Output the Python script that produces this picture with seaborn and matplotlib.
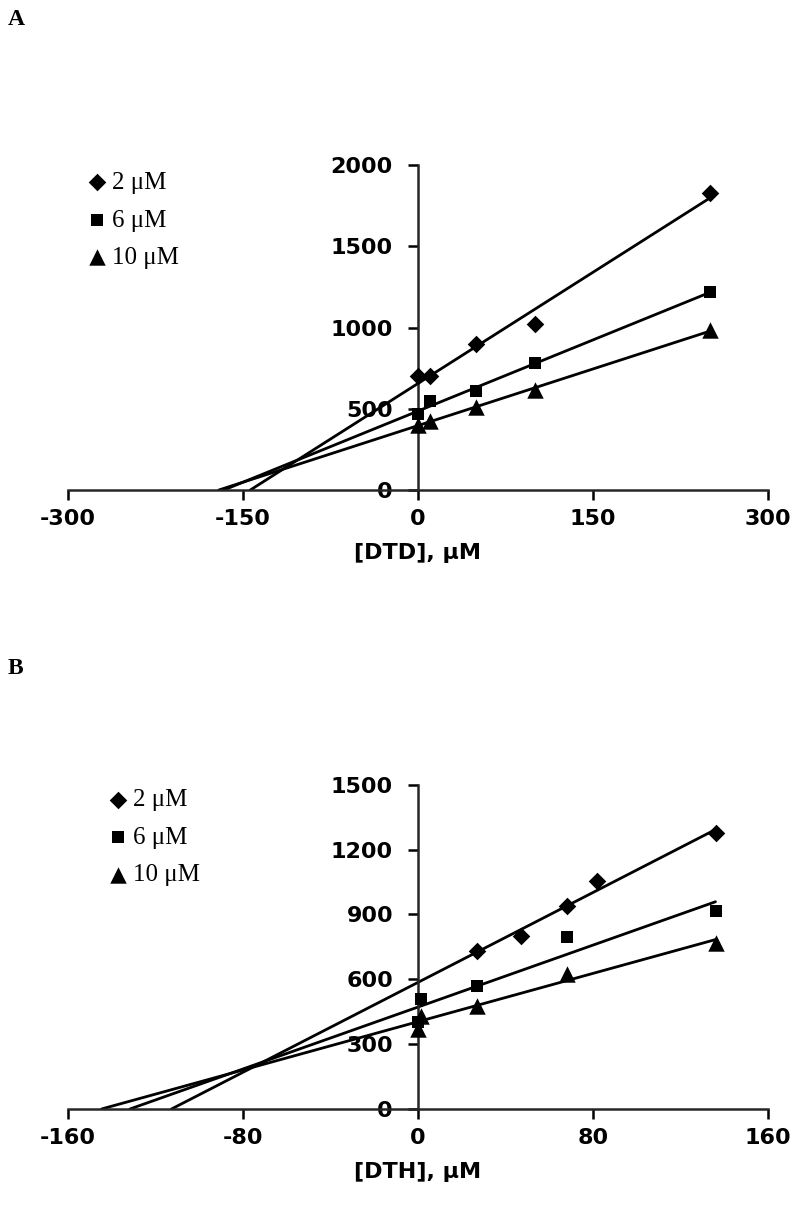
import numpy as np
import matplotlib
matplotlib.use("Agg")
import matplotlib.pyplot as plt
import seaborn as sns

# ── Data ─────────────────────────────────────────────────────────────────────
# Panel A: [DTD] series
dtd_conc = [0, 10, 50, 100, 250]
dtd_2uM = [700, 700, 900, 1020, 1830]
dtd_6uM = [470, 548, 609, 783, 1217]
dtd_10uM = [400, 425, 511, 618, 982]

# Panel B: [DTH] series
dth_conc_2uM = [27, 47, 68, 82, 136]
dth_2uM = [730, 800, 938, 1054, 1277]
dth_conc = [0, 1.5, 27, 68, 136]
dth_6uM = [400, 508, 569, 795, 918]
dth_10uM = [369, 430, 477, 623, 769]

series_labels = ["2 μM", "6 μM", "10 μM"]
markers = ["D", "s", "^"]
marker_sizes = [80, 70, 140]

a_xticks = [-300, -150, 0, 150, 300]
a_yticks = [0, 500, 1000, 1500, 2000]
b_xticks = [-160, -80, 0, 80, 160]
b_yticks = [0, 300, 600, 900, 1200, 1500]

sns.set_style("ticks")
plt.rcParams["font.family"] = ["DejaVu Sans"]
plt.rcParams["text.color"] = "black"
plt.rcParams["axes.labelcolor"] = "black"
plt.rcParams["xtick.color"] = "black"
plt.rcParams["ytick.color"] = "black"
plt.rcParams["axes.unicode_minus"] = False

LEG_FONT = dict(family="Liberation Serif", size=18, weight="normal")


def draw_panel(ax, xs, ys, xticks, yticks, xlabel, leg_x, leg_y):
    # spines first: set_position resets the tick objects
    ax.spines["left"].set_position(("data", 0))
    ax.spines["bottom"].set_position(("data", 0))
    for sp in ["top", "right"]:
        ax.spines[sp].set_visible(False)
    for sp in ["left", "bottom"]:
        ax.spines[sp].set_linewidth(1.8)

    for x, y, lab, m, s in zip(xs, ys, series_labels, markers, marker_sizes):
        sns.scatterplot(x=x, y=y, marker=m, s=s, color="black", edgecolor="black",
                        linewidth=0, label=lab, ax=ax, zorder=3, clip_on=False)
        # linear trendline, extended back to the x-intercept
        slope, icpt = np.polyfit(x, y, 1)
        x0 = -icpt / slope
        xx = np.array([x0, max(x)])
        ax.plot(xx, slope * xx + icpt, color="black", lw=2.0, zorder=2)

    ax.set_xlim(xticks[0], xticks[-1])
    ax.set_ylim(yticks[0], yticks[-1])
    ax.set_xticks(xticks)
    ax.set_yticks(yticks)
    ax.tick_params(axis="both", direction="out", length=7, width=1.8,
                   colors="black", labelsize=16)
    ax.tick_params(axis="y", pad=11)
    ax.tick_params(axis="x", pad=7)
    for lbl in ax.get_xticklabels() + ax.get_yticklabels():
        lbl.set_fontweight("bold")
    ax.set_xlabel(xlabel, fontsize=16, fontweight="bold", labelpad=10)
    ax.set_ylabel("")

    leg = ax.legend(loc="upper left", bbox_to_anchor=(leg_x, leg_y), frameon=False,
                    prop=LEG_FONT, borderaxespad=0, borderpad=0, handletextpad=0.1,
                    labelspacing=0.6, handlelength=1.0, scatterpoints=1)
    return leg


fig = plt.figure(figsize=(8, 12.1), dpi=100)
axA = fig.add_axes([0.085, 0.5950, 0.875, 0.2686])
axB = fig.add_axes([0.085, 0.0835, 0.875, 0.2680])

draw_panel(axA, [dtd_conc] * 3, [dtd_2uM, dtd_6uM, dtd_10uM],
           a_xticks, a_yticks, "[DTD], μM", 0.023, 0.98)
draw_panel(axB, [dth_conc_2uM, dth_conc, dth_conc], [dth_2uM, dth_6uM, dth_10uM],
           b_xticks, b_yticks, "[DTH], μM", 0.053, 0.988)

fig.text(8 / 800, 1 - 9 / 1210, "A", family="Liberation Serif", fontweight="bold",
         fontsize=17, va="top", ha="left")
fig.text(8 / 800, 1 - 658 / 1210, "B", family="Liberation Serif", fontweight="bold",
         fontsize=17, va="top", ha="left")

plt.savefig("out.png", dpi=100)
plt.close()
